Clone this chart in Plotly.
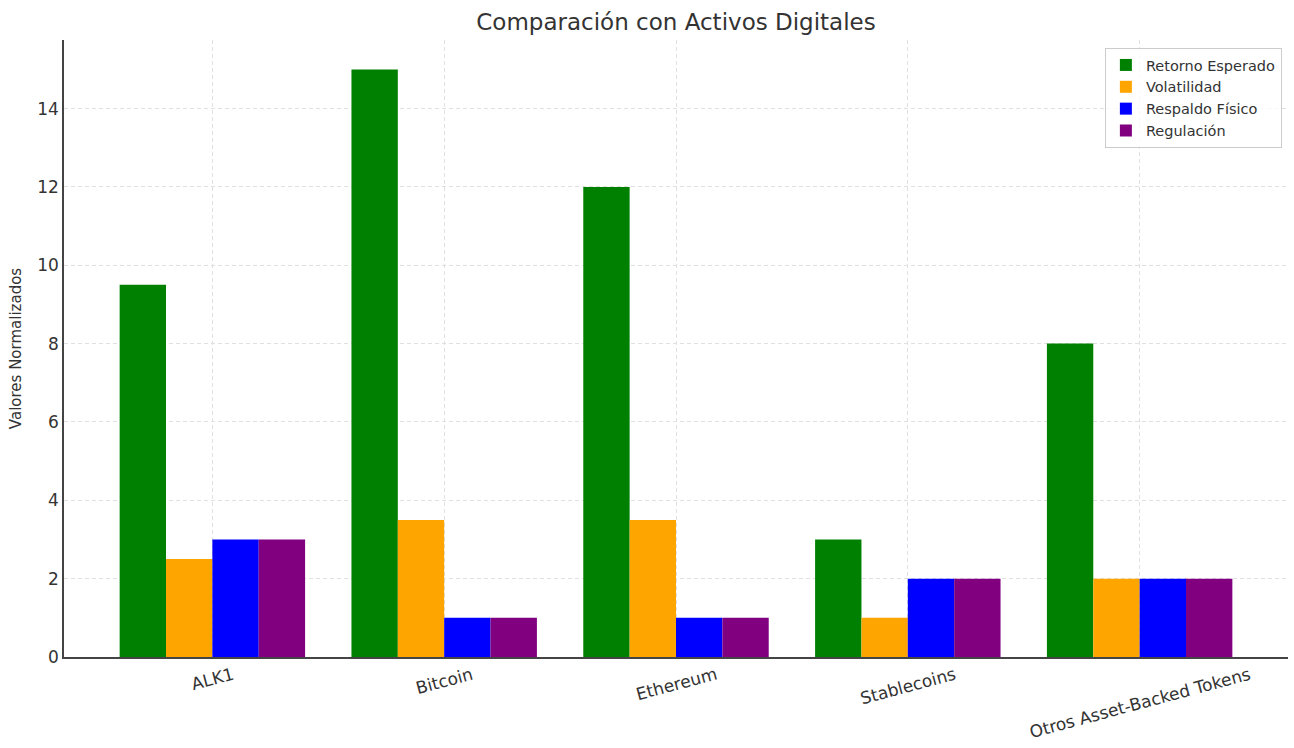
import plotly.graph_objects as go

categories = ["ALK1", "Bitcoin", "Ethereum", "Stablecoins", "Otros Asset-Backed Tokens"]
retorno = [9.5, 15, 12, 3, 8]
volatilidad = [2.5, 3.5, 3.5, 1, 2]
respaldo = [3, 1, 1, 2, 2]
regulacion = [3, 1, 1, 2, 2]
series_names = ["Retorno Esperado", "Volatilidad", "Respaldo Físico", "Regulación"]
colors = ["green", "orange", "blue", "purple"]
y_ticks = [0, 2, 4, 6, 8, 10, 12, 14]

FONT = "DejaVu Sans"
TXT = "#333333"
xpos = list(range(len(categories)))

fig = go.Figure()
for name, vals, col in zip(series_names, [retorno, volatilidad, respaldo, regulacion], colors):
    fig.add_trace(go.Bar(x=xpos, y=vals, name=name, marker=dict(color=col, line=dict(width=0))))

for i, c in enumerate(categories):
    fig.add_annotation(x=i, y=0, xref="x", yref="paper", text=c, showarrow=False,
                       textangle=-15, xanchor="center", yanchor="top", yshift=-4,
                       font=dict(family=FONT, size=17, color=TXT))

fig.update_layout(
    width=1294, height=748,
    margin=dict(l=64, r=6, t=40, b=91),
    paper_bgcolor="white", plot_bgcolor="white",
    barmode="group", bargap=0.2, bargroupgap=0,
    font=dict(family=FONT, color=TXT),
    title=dict(text="Comparación con Activos Digitales", x=0.5, xref="paper", xanchor="center",
               y=1 - 22 / 748, yref="container", yanchor="middle",
               font=dict(family=FONT, size=23, color=TXT)),
    legend=dict(x=0.995, y=0.987, xanchor="right", yanchor="top", bgcolor="rgba(255,255,255,0.8)",
                bordercolor="#cccccc", borderwidth=1, font=dict(family=FONT, size=14.5, color=TXT),
                tracegroupgap=0, itemsizing="constant"),
    xaxis=dict(range=[-0.64, 4.64], tickvals=xpos, ticktext=categories, showticklabels=False,
               showgrid=True, gridcolor="#e0e0e0", griddash="4px,3px", gridwidth=1,
               showline=True, linecolor="#444444", linewidth=1.5, zeroline=False, ticks=""),
    yaxis=dict(range=[0, 15.75], tickvals=y_ticks, showgrid=True, gridcolor="#e0e0e0", griddash="4px,3px",
               gridwidth=1, showline=True, linecolor="#444444", linewidth=1.5, zeroline=False, ticks="",
               tickfont=dict(family=FONT, size=17, color=TXT),
               title=dict(text="Valores Normalizados", font=dict(family=FONT, size=15, color=TXT), standoff=12)),
)

fig.write_html("out.html")
